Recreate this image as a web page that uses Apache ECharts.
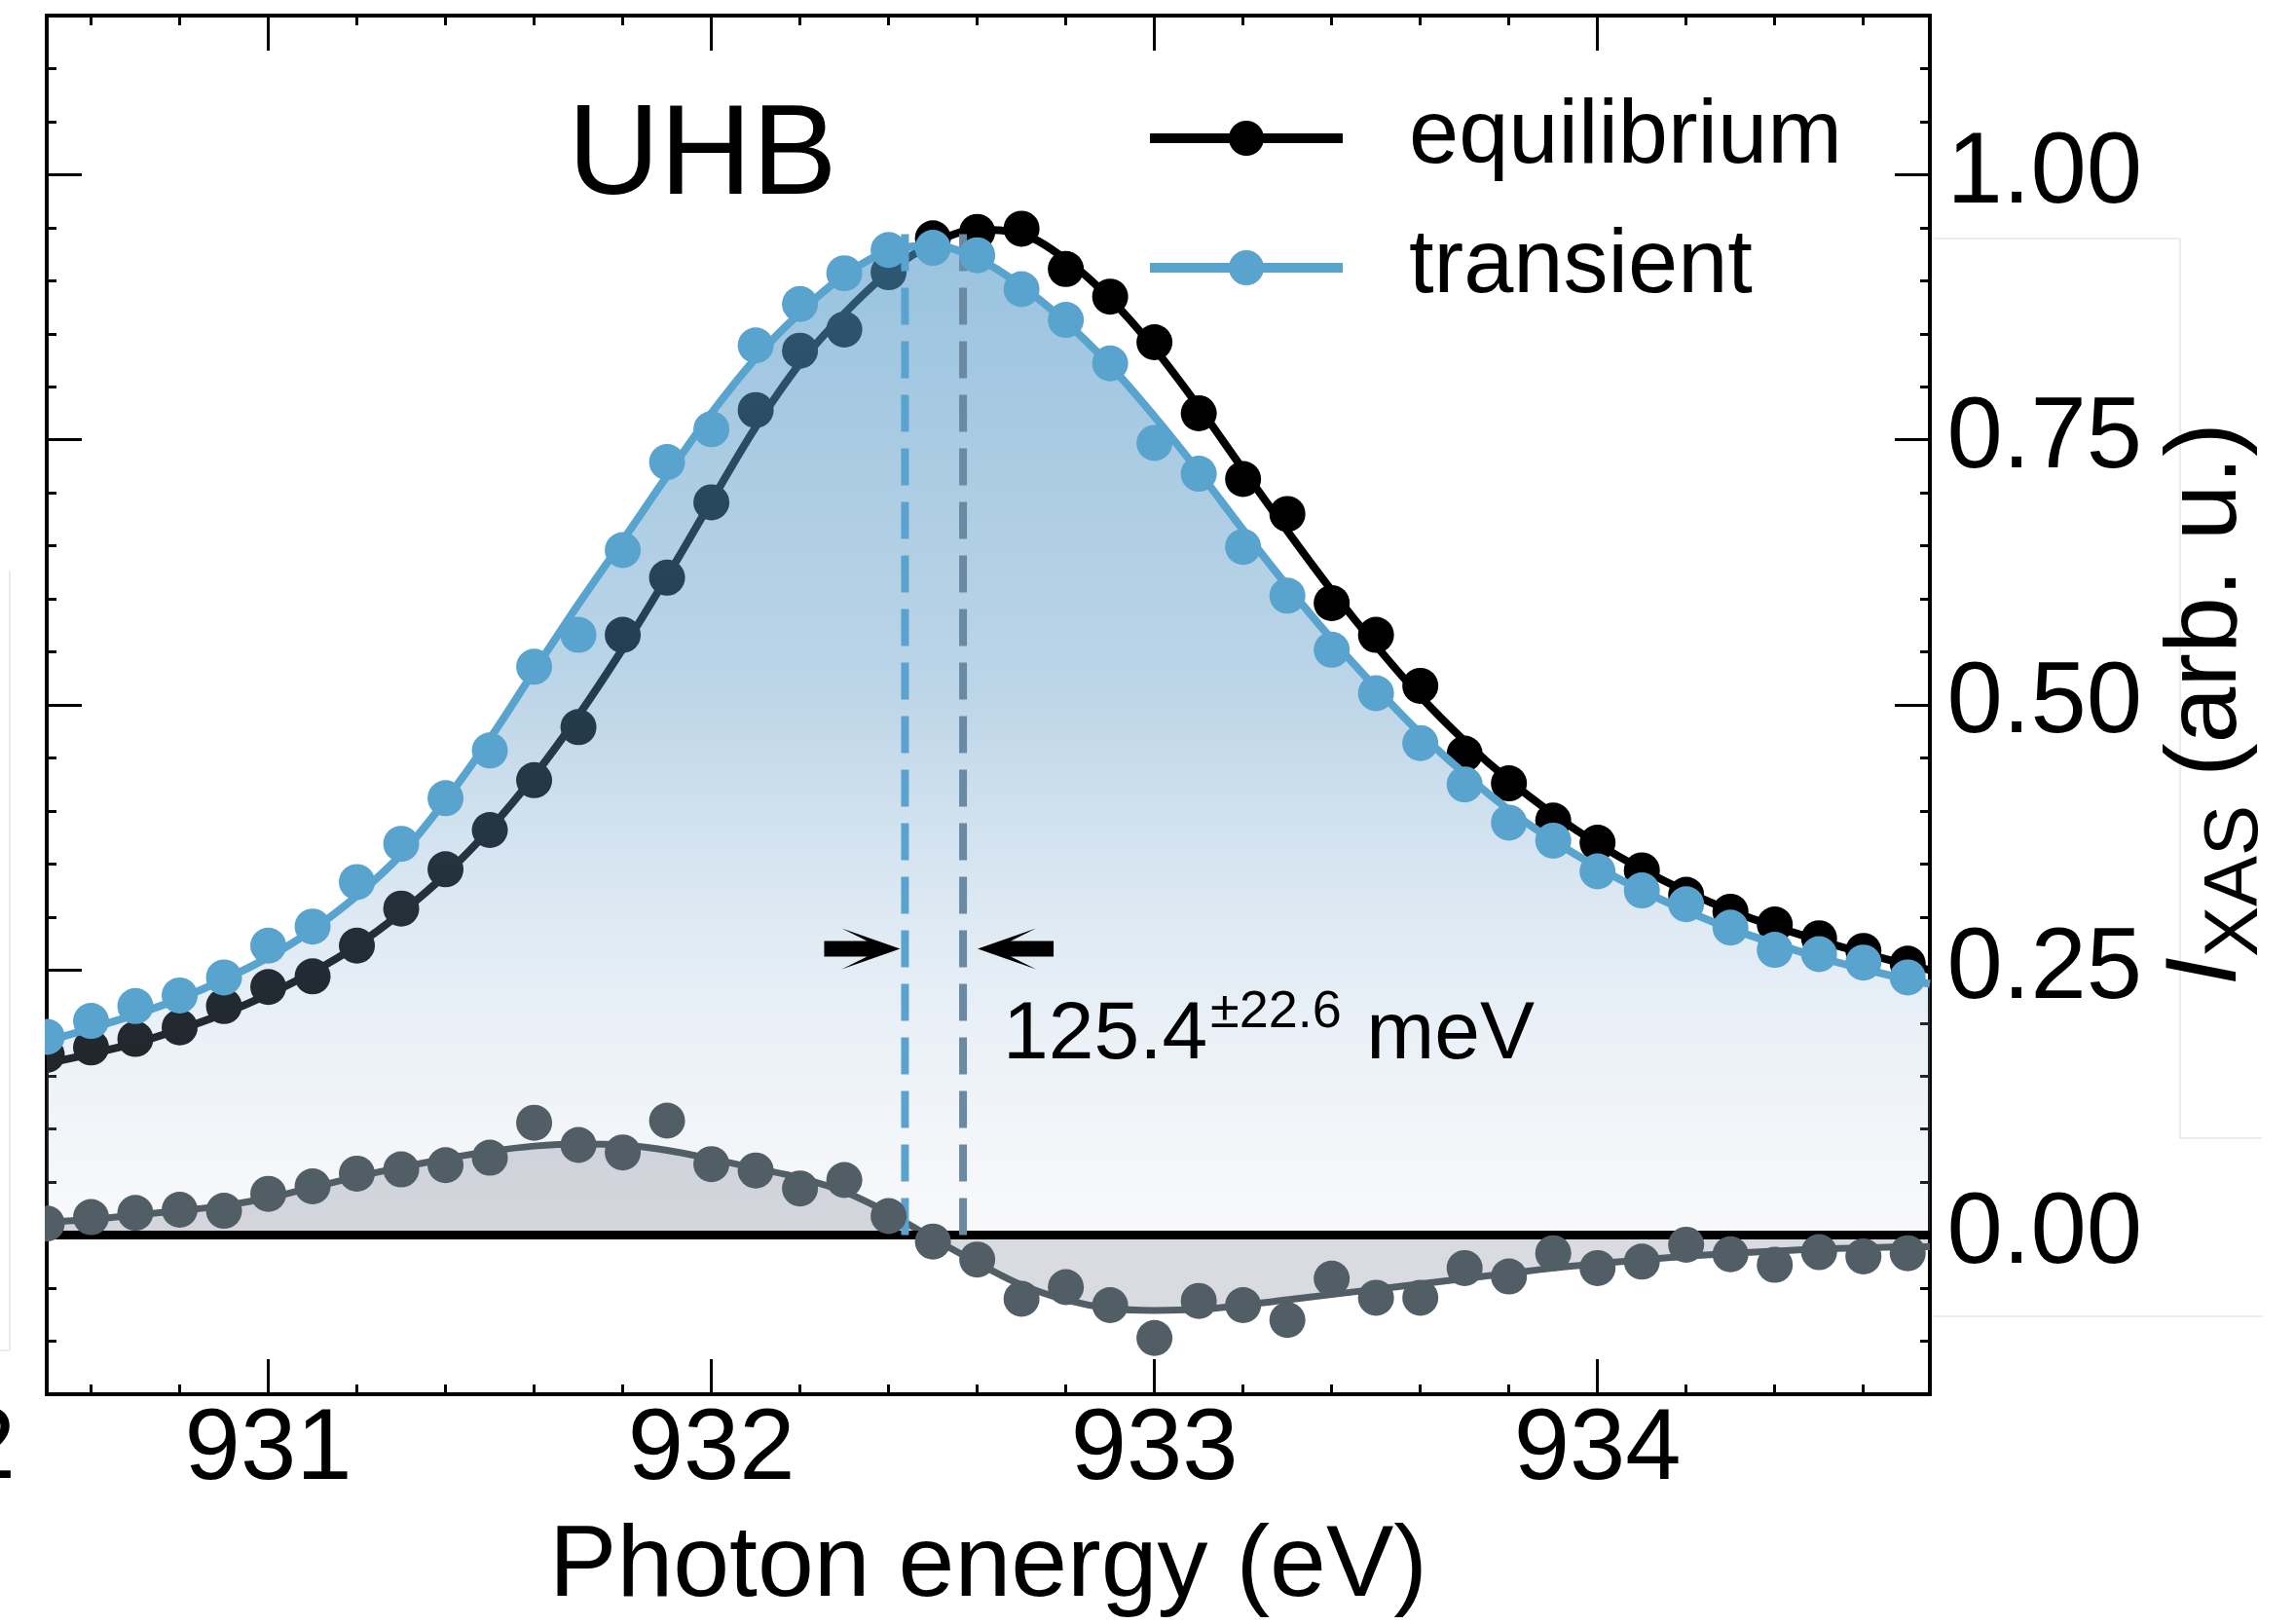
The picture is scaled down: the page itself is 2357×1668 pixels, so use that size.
<!DOCTYPE html>
<html><head><meta charset="utf-8">
<script src="https://cdn.jsdelivr.net/npm/echarts@6/dist/echarts.min.js"></script>
<style>html,body{margin:0;padding:0;background:#fff}#c{width:2357px;height:1668px}</style>
</head><body><div id="c"></div><script>
const FONT = '"Liberation Sans", Arial, Helvetica, sans-serif';

const xRange = [930.5, 934.75];
const yRange = [-0.15, 1.15];

const energy = [930.5,930.6,930.7,930.8,930.9,931.0,931.1,931.2,931.3,931.4,931.5,931.6,931.7,931.8,931.9,932.0,932.1,932.2,932.3,932.4,932.5,932.6,932.7,932.8,932.9,933.0,933.1,933.2,933.3,933.4,933.5,933.6,933.7,933.8,933.9,934.0,934.1,934.2,934.3,934.4,934.5,934.6,934.7];

const equilibriumPts = [0.170,0.177,0.185,0.196,0.216,0.234,0.244,0.273,0.308,0.345,0.382,0.429,0.479,0.566,0.620,0.691,0.778,0.834,0.854,0.908,0.940,0.946,0.949,0.911,0.885,0.842,0.775,0.713,0.680,0.596,0.566,0.518,0.454,0.426,0.391,0.370,0.344,0.321,0.305,0.293,0.280,0.268,0.256];

const transientPts = [0.187,0.202,0.216,0.226,0.243,0.273,0.291,0.333,0.369,0.412,0.457,0.536,0.566,0.646,0.729,0.760,0.839,0.878,0.907,0.929,0.931,0.924,0.892,0.863,0.822,0.747,0.718,0.649,0.603,0.552,0.511,0.464,0.425,0.389,0.372,0.343,0.325,0.312,0.290,0.269,0.265,0.257,0.243];

const differencePts = [0.011,0.017,0.021,0.024,0.023,0.039,0.046,0.058,0.062,0.066,0.073,0.106,0.085,0.078,0.108,0.067,0.061,0.044,0.052,0.018,-0.006,-0.023,-0.060,-0.049,-0.066,-0.097,-0.062,-0.066,-0.080,-0.041,-0.059,-0.059,-0.031,-0.039,-0.017,-0.031,-0.025,-0.009,-0.018,-0.028,-0.016,-0.020,-0.017];

const fitEnergy = [930.5,930.6,930.7,930.8,930.9,931.0,931.1,931.2,931.3,931.4,931.5,931.6,931.7,931.8,931.9,932.0,932.1,932.2,932.3,932.4,932.5,932.6,932.7,932.8,932.9,933.0,933.1,933.2,933.3,933.4,933.5,933.6,933.7,933.8,933.9,934.0,934.1,934.2,934.3,934.4,934.5,934.6,934.7,934.75];

const equilibriumFit = [0.162,0.171,0.181,0.194,0.209,0.227,0.248,0.273,0.304,0.340,0.383,0.433,0.490,0.553,0.621,0.692,0.762,0.822,0.869,0.908,0.935,0.948,0.944,0.920,0.883,0.836,0.781,0.722,0.664,0.608,0.556,0.508,0.466,0.429,0.397,0.369,0.345,0.324,0.306,0.291,0.278,0.266,0.255,0.250];

const transientFit = [0.183,0.195,0.208,0.223,0.241,0.262,0.288,0.320,0.359,0.410,0.468,0.532,0.595,0.655,0.716,0.775,0.827,0.870,0.905,0.928,0.933,0.921,0.895,0.861,0.820,0.772,0.720,0.665,0.612,0.562,0.516,0.473,0.435,0.401,0.372,0.347,0.325,0.306,0.289,0.275,0.262,0.251,0.241,0.237];

const differenceFit = [0.012,0.015,0.019,0.023,0.028,0.035,0.045,0.055,0.064,0.072,0.079,0.084,0.086,0.085,0.080,0.072,0.063,0.054,0.041,0.021,-0.003,-0.026,-0.047,-0.061,-0.069,-0.071,-0.070,-0.066,-0.061,-0.056,-0.051,-0.046,-0.041,-0.036,-0.031,-0.027,-0.023,-0.020,-0.017,-0.015,-0.013,-0.012,-0.011,-0.011];

const peakEnergy = [932.437, 932.568];   // transient, equilibrium
const peakTop = [0.948, 0.952];
const arrowLevel = 0.27;

const xMajorTicks = [931, 932, 933, 934];
const xMinorTicks = [930.6,930.8,931.2,931.4,931.6,931.8,932.2,932.4,932.6,932.8,933.2,933.4,933.6,933.8,934.2,934.4,934.6];
const yMajorTicks = [0, 0.25, 0.5, 0.75, 1.0];
const yMinorTicks = [-0.1,-0.05,0.05,0.1,0.15,0.2,0.3,0.35,0.4,0.45,0.55,0.6,0.65,0.7,0.8,0.85,0.9,0.95,1.05,1.1];

const titleText = 'UHB';
const xName = 'Photon energy (eV)';
const shiftText = ['125.4', '±22.6', ' meV'];

const COL_T = '#59a3cf', COL_E = '#000000', COL_D = '#525e66';

function pairs(xs, ys) { return xs.map((x, i) => [x, ys[i]]); }

function axisBase(kind, pos, ticks, len, withLabels) {
  const isX = kind === 'x';
  const a = {
    type: 'value', gridIndex: 0, position: pos,
    min: isX ? xRange[0] : yRange[0], max: isX ? xRange[1] : yRange[1],
    axisLine: { show: true, onZero: false, lineStyle: { color: '#000', width: 4 } },
    axisTick: { show: true, inside: true, length: len, customValues: ticks, lineStyle: { color: '#000', width: 3 } },
    axisLabel: { show: false },
    splitLine: { show: false }, minorTick: { show: false }, minorSplitLine: { show: false }
  };
  if (withLabels) {
    a.axisLabel = {
      show: true, customValues: ticks, color: '#000', fontFamily: FONT, fontSize: 103,
      margin: isX ? 7 : 17.5,
      formatter: isX ? (v => String(v)) : (v => v.toFixed(2))
    };
  }
  return a;
}

const xBottom = axisBase('x', 'bottom', xMajorTicks, 36, true);
xBottom.name = xName; xBottom.nameLocation = 'middle'; xBottom.nameGap = 126;
xBottom.nameTextStyle = { fontSize: 104, color: '#000', fontFamily: FONT };

const chart = echarts.init(document.getElementById('c'), null, { renderer: 'canvas', width: 2357, height: 1668 });

const dot = (c) => ({ color: c, opacity: 1 });

const option = {
  backgroundColor: '#ffffff',
  animation: false,
  grid: { left: 48, right: 375, top: 16, bottom: 236, containLabel: false },
  xAxis: [
    xBottom,
    axisBase('x', 'top', xMajorTicks, 36, false),
    axisBase('x', 'bottom', xMinorTicks, 10, false),
    axisBase('x', 'top', xMinorTicks, 10, false)
  ],
  yAxis: [
    axisBase('y', 'right', yMajorTicks, 36, true),
    axisBase('y', 'left', yMajorTicks, 36, false),
    axisBase('y', 'right', yMinorTicks, 10, false),
    axisBase('y', 'left', yMinorTicks, 10, false)
  ],
  legend: {
    data: ['equilibrium', 'transient'], orient: 'vertical', left: 1171, top: 91,
    itemWidth: 198, itemHeight: 45, itemGap: 41, selectedMode: false,
    lineStyle: { width: 10 },
    textStyle: { fontSize: 92, color: '#000', fontFamily: FONT, padding: [0, 0, 0, 63] }
  },
  series: [
    { name: 'equilibrium', type: 'line', data: pairs(fitEnergy, equilibriumFit), smooth: 0.35,
      symbol: 'circle', symbolSize: 36, showSymbol: false,
      lineStyle: { color: COL_E, width: 8 }, itemStyle: dot(COL_E), z: 2, silent: true },
    { name: 'equilibrium data', type: 'scatter', data: pairs(energy, equilibriumPts), symbolSize: 37,
      itemStyle: dot(COL_E), z: 2, silent: true },
    { name: 'transient area', type: 'line', data: pairs(fitEnergy, transientFit), smooth: 0.35,
      symbol: 'none', showSymbol: false, lineStyle: { width: 0, opacity: 0 },
      areaStyle: { opacity: 1, color: new echarts.graphic.LinearGradient(0, 0, 0, 1, [
        { offset: 0, color: 'rgba(80,152,200,0.58)' },
        { offset: 0.45, color: 'rgba(88,150,196,0.40)' },
        { offset: 0.75, color: 'rgba(145,182,215,0.23)' },
        { offset: 1, color: 'rgba(210,212,225,0.14)' }
      ]) }, z: 3, silent: true },
    { name: 'difference', type: 'line', data: pairs(fitEnergy, differenceFit), smooth: 0.35,
      symbol: 'none', showSymbol: false, lineStyle: { color: COL_D, width: 7 },
      areaStyle: { color: 'rgba(70,75,100,0.20)', opacity: 1 }, z: 4, silent: true },
    { name: 'zero', type: 'line', data: [[xRange[0], 0], [xRange[1], 0]], symbol: 'none', clip: false,
      lineStyle: { color: '#000', width: 9, cap: 'butt' }, z: 4, silent: true },
    { name: 'difference data', type: 'scatter', data: pairs(energy, differencePts), symbolSize: 37,
      itemStyle: dot(COL_D), z: 5, silent: true },
    { name: 'transient peak', type: 'line', data: [[peakEnergy[0], 0], [peakEnergy[0], peakTop[0]]],
      symbol: 'none', lineStyle: { color: '#5aa3d0', width: 8, type: [38, 17], cap: 'butt' }, z: 5, silent: true },
    { name: 'equilibrium peak', type: 'line', data: [[peakEnergy[1], 0], [peakEnergy[1], peakTop[1]]],
      symbol: 'none', lineStyle: { color: '#6a8aa3', width: 8, type: [38, 17], cap: 'butt' }, z: 5, silent: true },
    { name: 'transient', type: 'line', data: pairs(fitEnergy, transientFit), smooth: 0.35,
      symbol: 'circle', symbolSize: 36, showSymbol: false,
      lineStyle: { color: COL_T, width: 8 }, itemStyle: dot(COL_T), z: 6, silent: true },
    { name: 'transient data', type: 'scatter', data: pairs(energy, transientPts), symbolSize: 37,
      itemStyle: dot(COL_T), z: 6, silent: true }
  ]
};
chart.setOption(option);

const px = (x, y) => chart.convertToPixel({ xAxisIndex: 0, yAxisIndex: 0 }, [x, y]);
const pT = px(peakEnergy[0], arrowLevel);
const pE = px(peakEnergy[1], arrowLevel);
const rt = pT[0] - 5, ay = pT[1];
const lt = pE[0] + 15;
const rightArrow = [[rt - 78, ay - 8], [rt - 34, ay - 8], [rt - 60, ay - 21], [rt, ay], [rt - 60, ay + 21], [rt - 34, ay + 8], [rt - 78, ay + 8]];
const leftArrow = [[lt + 78, ay - 8], [lt + 34, ay - 8], [lt + 60, ay - 21], [lt, ay], [lt + 60, ay + 21], [lt + 34, ay + 8], [lt + 78, ay + 8]];

function txt(x, y, s, size, extra) {
  return Object.assign({ type: 'text', x: x, y: y, z: 100, silent: true,
    style: Object.assign({ text: s, fontSize: size, fontFamily: FONT, fill: '#000',
      align: 'left', textAlign: 'left', verticalAlign: 'middle', textVerticalAlign: 'middle' }, extra || {}) });
}
function ln(x1, y1, x2, y2) {
  return { type: 'line', z: 51, silent: true, shape: { x1, y1, x2, y2 }, style: { stroke: '#e6e6e6', lineWidth: 1.5 } };
}

chart.setOption({
  graphic: [
    { type: 'rect', z: 50, silent: true, shape: { x: 0, y: 0, width: 46, height: 1440 }, style: { fill: '#ffffff' } },
    ln(10, 586, 10, 1387), ln(0, 1387, 10, 1387),
    ln(1985, 245, 2239, 245), ln(2239, 245, 2239, 1169), ln(2239, 1169, 2323, 1169), ln(1985, 1352, 2323, 1352),
    txt(583, 163, titleText, 131),
    txt(16, 1490, '2', 103, { align: 'right', textAlign: 'right' }),
    txt(1030, 1064, shiftText[0], 84),
    txt(1243, 1040, shiftText[1], 54),
    txt(1380, 1064, shiftText[2], 84),
    { type: 'polygon', z: 100, silent: true, shape: { points: rightArrow }, style: { fill: '#000' } },
    { type: 'polygon', z: 100, silent: true, shape: { points: leftArrow }, style: { fill: '#000' } },
    { type: 'group', x: 2303, y: 1012, rotation: Math.PI / 2, z: 100, silent: true, children: [
      txt(0, -36, 'I', 104, { fontStyle: 'italic' }),
      txt(29, -7, 'XAS', 78),
      txt(185, -36, ' (arb. u.)', 104)
    ] }
  ]
});
</script></body></html>
